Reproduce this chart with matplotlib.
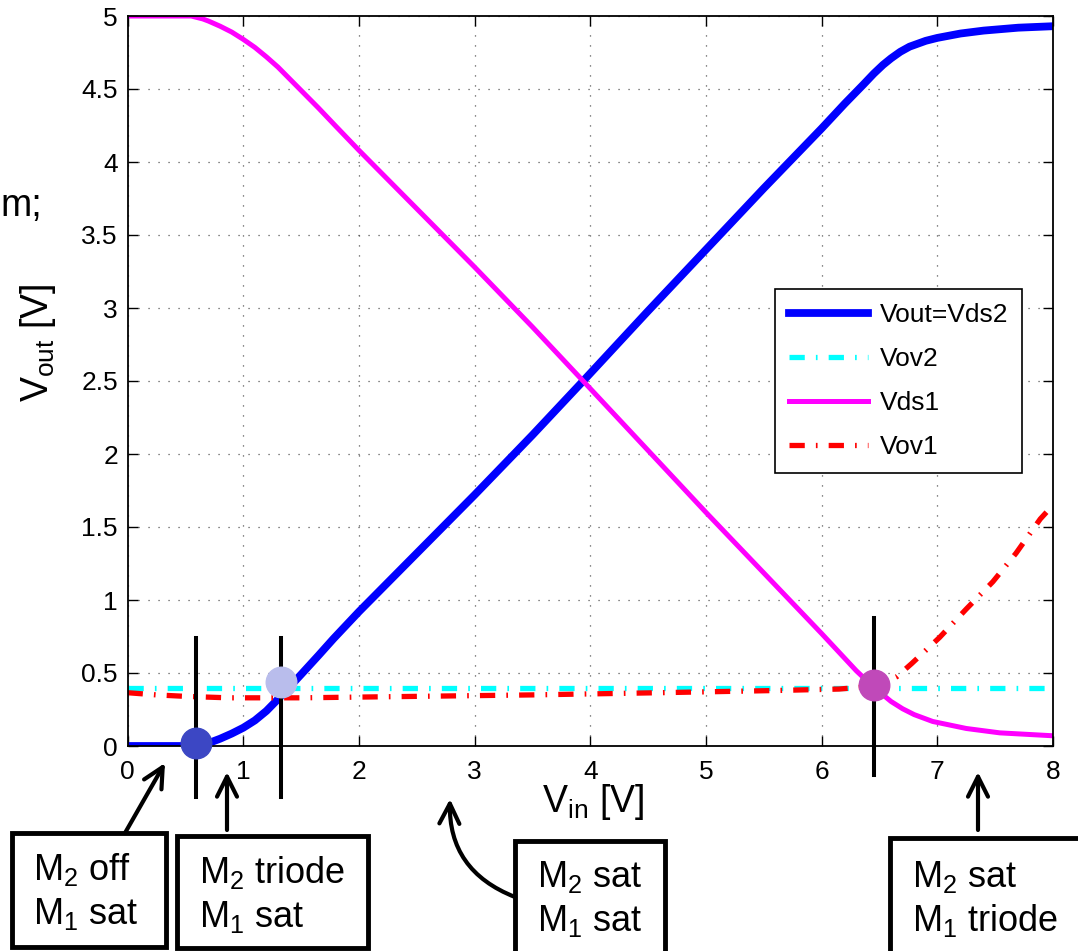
import numpy as np
import matplotlib.pyplot as plt
from matplotlib.patches import Rectangle

plt.rcParams['font.family'] = ['Liberation Sans', 'DejaVu Sans']
plt.rcParams['mathtext.fontset'] = 'custom'
plt.rcParams['mathtext.rm'] = 'Liberation Sans'
plt.rcParams['mathtext.it'] = 'Liberation Sans:italic'
plt.rcParams['lines.scale_dashes'] = False

# curves
vin_out = [0.0, 0.6, 0.7, 0.8, 0.9, 1.0, 1.1, 1.2, 1.33, 1.5, 1.65, 1.78, 2.0, 2.5, 3.0,
           3.5, 3.95, 4.5, 5.0, 5.5, 6.0, 6.2, 6.36, 6.45, 6.53, 6.6, 6.68, 6.76, 6.9,
           7.0, 7.2, 7.4, 7.7, 8.0]
vout = [0.0, 0.0, 0.02, 0.05, 0.085, 0.125, 0.175, 0.24, 0.345, 0.49, 0.62, 0.735, 0.92, 1.32, 1.72,
        2.13, 2.51, 2.98, 3.40, 3.82, 4.23, 4.40, 4.53, 4.605, 4.665, 4.71, 4.755, 4.79, 4.83,
        4.85, 4.88, 4.90, 4.92, 4.93]

vin_ds1 = [0.0, 0.55, 0.65, 0.7, 0.8, 0.9, 1.0, 1.1, 1.2, 1.3, 1.4, 1.5, 1.65, 1.8, 2.0,
           2.5, 3.0, 3.5, 3.95, 5.0, 6.0, 6.2, 6.3, 6.4, 6.5, 6.6, 6.7, 6.8, 6.96, 7.25, 7.54, 8.0]
vds1 = [5.0, 5.0, 4.98, 4.965, 4.93, 4.89, 4.84, 4.785, 4.72, 4.65, 4.57, 4.49, 4.37, 4.245, 4.08,
        3.68, 3.28, 2.87, 2.49, 1.60, 0.77, 0.60, 0.515, 0.44, 0.37, 0.305, 0.255, 0.215, 0.168,
        0.12, 0.09, 0.07]

vin_ov2 = [0.0, 8.0]
vov2 = [0.40, 0.40]

vin_ov1 = [0.0, 0.25, 0.5, 0.87, 1.5, 2.5, 3.5, 4.6, 5.6, 6.15, 6.45, 6.55, 6.65, 6.78, 7.02,
           7.25, 7.48, 7.68, 7.89, 8.0]
vov1 = [0.365, 0.35, 0.34, 0.33, 0.33, 0.34, 0.35, 0.365, 0.38, 0.39, 0.41, 0.44, 0.475, 0.566,
        0.744, 0.938, 1.125, 1.32, 1.555, 1.65]

# region boundaries and operating points
trans_x = [0.59, 1.33, 6.45]
trans_lo = [-0.35, -0.35, -0.2]
trans_hi = [0.74, 0.74, 0.88]
mark_x = [0.59, 1.33, 6.45]
mark_y = [0.02, 0.44, 0.42]
mark_colors = ['#3c47c4', '#b9bdec', '#c049b9']

region_text = [r'M$_2$ off' + '\n' + r'M$_1$ sat',
               r'M$_2$ triode' + '\n' + r'M$_1$ sat',
               r'M$_2$ sat' + '\n' + r'M$_1$ sat',
               r'M$_2$ sat' + '\n' + r'M$_1$ triode']

dashdot = (0, (11, 8, 1.2, 8))

fig = plt.figure(figsize=(10.78, 9.51), dpi=100)
ax = fig.add_axes([127.6 / 1078, 205 / 951, 925.4 / 1078, 730 / 951])

ax.plot(vin_out, vout, color='#0000ff', lw=5.6, label='Vout=Vds2')
ax.plot(vin_ov2, vov2, color='#00ffff', lw=3.8, linestyle=dashdot, label='Vov2')
ax.plot(vin_ds1, vds1, color='#ff00ff', lw=3.6, label='Vds1')
ax.plot(vin_ov1, vov1, color='#ff0000', lw=3.8, linestyle=dashdot, label='Vov1')

for x, lo, hi in zip(trans_x, trans_lo, trans_hi):
    ax.plot([x, x], [lo, hi], color='k', lw=2.9, clip_on=False, zorder=4)
for x, y, c in zip(mark_x, mark_y, mark_colors):
    ax.plot(x, y, 'o', ms=22, color=c, mec=c, clip_on=False, zorder=5)

ax.set_xlim(0, 8)
ax.set_ylim(0, 5)
ax.set_xticks(np.arange(0, 9, 1))
ax.set_yticks(np.arange(0, 5.01, 0.5))
ax.set_xticklabels([str(i) for i in range(9)])
ax.set_yticklabels(['0', '0.5', '1', '1.5', '2', '2.5', '3', '3.5', '4', '4.5', '5'])
ax.grid(True, linestyle=(0, (0.8, 6.4)), color='#444444', linewidth=0.9)
ax.tick_params(direction='in', length=7, width=1, top=True, right=True, labelsize=19)
ax.tick_params(axis='x', pad=10)
ax.tick_params(axis='y', pad=7)
for s in ax.spines.values():
    s.set_linewidth(1.3)

ax.set_xlabel(r'V$_{\rm in}$ [V]', fontsize=27)
ax.xaxis.set_label_coords(0.503, -0.05)
ax.set_ylabel(r'V$_{\rm out}$ [V]', fontsize=27)
ax.yaxis.set_label_coords(-0.075, 0.552)

leg = ax.legend(loc='upper left', bbox_to_anchor=(0.6996, 0.626), fontsize=19,
                handlelength=3.0, handletextpad=0.45, labelspacing=0.76, borderpad=0.52,
                fancybox=False, framealpha=1, edgecolor='k', borderaxespad=0)
leg.get_frame().set_linewidth(1.2)

# annotation layer in pixel coordinates
ov = fig.add_axes([0, 0, 1, 1])
ov.set_xlim(0, 1078)
ov.set_ylim(951, 0)
ov.set_axis_off()

boxes = [(12, 833, 154, 114), (177, 836, 191, 112), (515, 841, 150, 130), (890, 838, 200, 130)]
text_pos = [(33, 880), (199, 883), (537, 887), (912, 887)]
for (bx, by, bw, bh), (tx, ty), txt in zip(boxes, text_pos, region_text):
    ov.add_patch(Rectangle((bx, by), bw, bh, facecolor='white', edgecolor='k', lw=3.5))
    l1, l2 = txt.split('\n')
    ov.text(tx, ty, l1, fontsize=26, va='baseline', ha='left')
    ov.text(tx, ty + 44, l2, fontsize=26, va='baseline', ha='left')

arrows = [((125, 833), (165, 763), 0.0), ((227, 830), (227, 772), 0.0),
          ((515, 897), (450, 799), -0.35), ((978, 830), (978, 772), 0.0)]
for tail, tip, rad in arrows:
    ov.annotate('', xy=tip, xytext=tail,
                arrowprops=dict(arrowstyle='->,head_length=0.72,head_width=0.36',
                                lw=3, color='k', shrinkA=0, shrinkB=0,
                                mutation_scale=20,
                                connectionstyle='arc3,rad=%s' % rad))

ov.text(0, 216, 'm;', fontsize=27, va='baseline', ha='left')

fig.savefig('out.png', dpi=100)
